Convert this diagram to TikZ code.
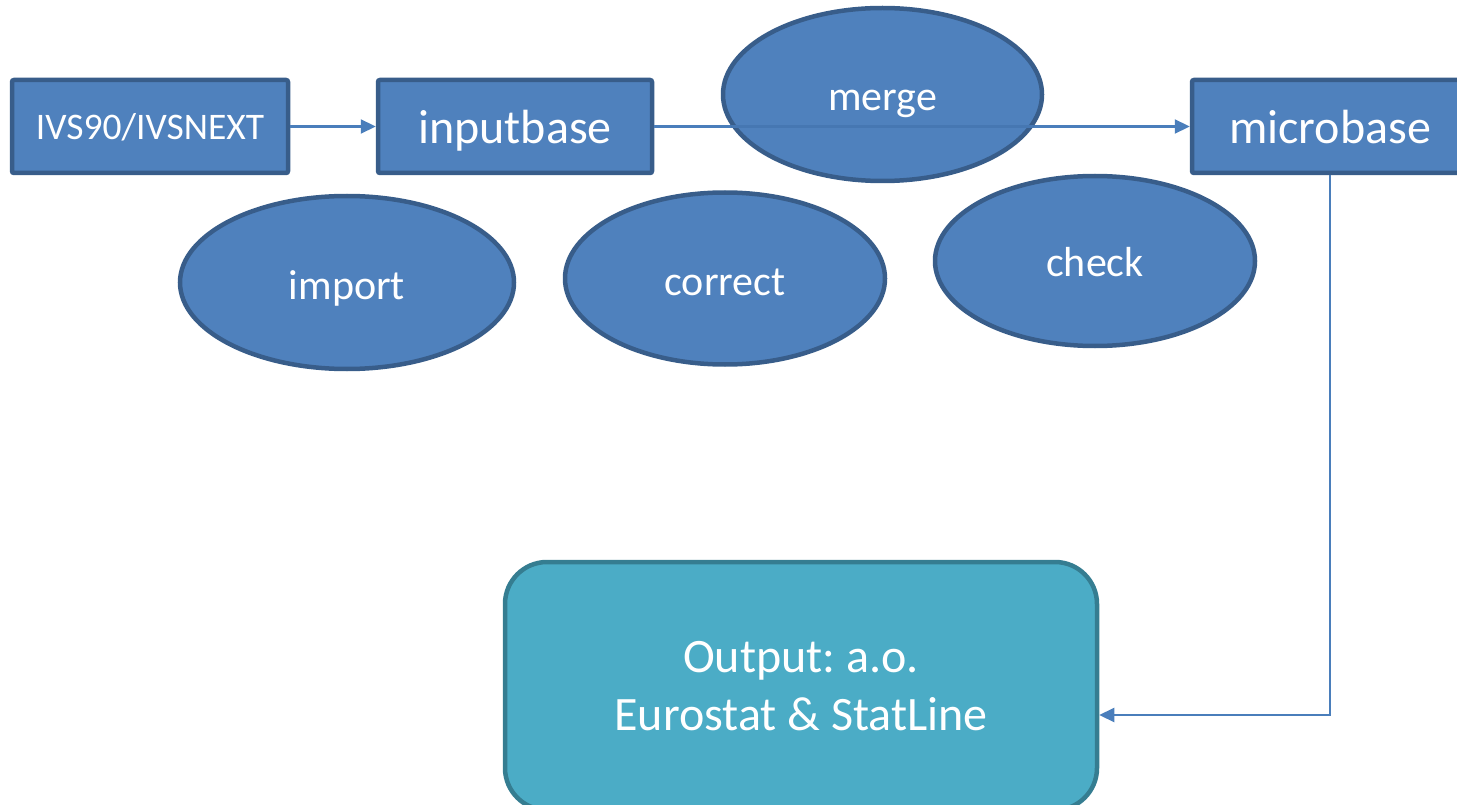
\documentclass[tikz,border=0pt]{standalone}
\usepackage{fontspec}
\setmainfont{Carlito}
\frenchspacing
\usetikzlibrary{shapes.geometric,arrows.meta}
\definecolor{boxfill}{HTML}{4F81BD}
\definecolor{boxline}{HTML}{385D8A}
\definecolor{outfill}{HTML}{4BACC6}
\definecolor{outline}{HTML}{357D91}
\definecolor{conn}{HTML}{4A7EBB}
\definecolor{connin}{HTML}{4677B2}
\newcommand{\lowered}[2]{\raisebox{-#1}[\height][\depth]{#2}}
\tikzset{
  base/.style={fill=boxfill,draw=boxline,line width=4.5pt,text=white,inner sep=0pt},
  rectbox/.style={base,rectangle,rounded corners=2pt,minimum height=93pt},
  ell/.style={base,ellipse,minimum width=320pt,minimum height=172pt},
  conn/.style={draw=conn,line width=2.2pt,-{Triangle[length=15pt,width=14pt]}},
  big/.style={font=\fontsize{48}{55}\selectfont},
  mid/.style={font=\fontsize{42}{58}\selectfont},
  outtext/.style={font=\fontsize{48}{58}\selectfont},
  small/.style={font=\fontsize{37.5}{42}\selectfont},
}
\begin{document}
\begin{tikzpicture}[x=1pt,y=-1pt]
\useasboundingbox (0,0) rectangle (1457,805);
\clip (0,0) rectangle (1457,805);
\node[rectbox,minimum width=276pt,small] (ivs) at (150,126.5) {\lowered{1pt}{IVS90/IVSNEXT}};
\node[rectbox,minimum width=274pt,big] (inp) at (515,126.5) {\lowered{4pt}{inputbase}};
\node[rectbox,minimum width=276pt,big] (mic) at (1330,126.5) {\lowered{1pt}{microbase}};
\node[ell,mid,minimum width=334pt,minimum height=173pt] (imp) at (347,282.5) {\lowered{6pt}{import}};
\node[ell,mid] (cor) at (725,278.5) {\lowered{4pt}{correct}};
\node[ell,mid,minimum height=170pt] (chk) at (1095,261) {\lowered{1pt}{check}};
\draw[conn] (ivs.east) -- (inp.west);
\draw[conn] (inp.east) -- (mic.west);
\node[ell,mid,minimum width=319pt,minimum height=173pt] (mrg) at (882.5,94.5) {\lowered{9pt}{merge}};
\begin{scope}
  \clip (mrg.center) ellipse [x radius=162pt, y radius=89pt];
  \draw[draw=connin,line width=2.2pt] (inp.east) -- (mic.west);
\end{scope}
\node[base,fill=outfill,draw=outline,rectangle,rounded corners=42pt,minimum width=592pt,minimum height=248pt,outtext,align=center] (out) at (801,686) {Output: a.o.\\Eurostat \& StatLine};
\coordinate (turn) at (mic.south |- 0,715);
\draw[conn] (mic.south) -- (turn) -- (out.east |- turn);
\end{tikzpicture}
\end{document}
